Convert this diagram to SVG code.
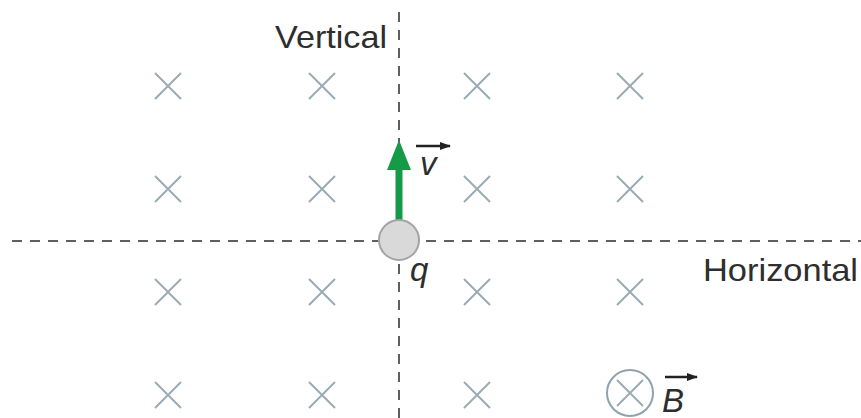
<svg xmlns="http://www.w3.org/2000/svg" width="861" height="418" viewBox="0 0 861 418">
<defs>
<style>
.x{stroke:#9aabb3;stroke-width:2;fill:none}
.axis{stroke:#5f5f5f;stroke-width:2;stroke-dasharray:10 8;fill:none}
.lbl{font-family:"Liberation Sans",Arial,sans-serif;font-size:32px;fill:#2e2e2e}
.sym{font-family:"Liberation Sans",Arial,sans-serif;font-size:33px;font-style:italic;fill:#2e2e2e}
.vec{stroke:#222;stroke-width:2.5;fill:none}
</style>
<path id="cross" d="M-13,-13L13,13M13,-13L-13,13"/>
<marker id="vh" markerWidth="11" markerHeight="8" refX="10" refY="4" orient="auto" markerUnits="userSpaceOnUse"><path d="M0,0L11,4L0,8Z" fill="#222"/></marker>
</defs>
<rect width="861" height="418" fill="#fff"/>
<g id="field">
<use href="#cross" class="x" x="168" y="86"/>
<use href="#cross" class="x" x="322" y="86"/>
<use href="#cross" class="x" x="477" y="86"/>
<use href="#cross" class="x" x="630" y="86"/>
<use href="#cross" class="x" x="168" y="189"/>
<use href="#cross" class="x" x="322" y="189"/>
<use href="#cross" class="x" x="477" y="189"/>
<use href="#cross" class="x" x="630" y="189"/>
<use href="#cross" class="x" x="168" y="292"/>
<use href="#cross" class="x" x="322" y="292"/>
<use href="#cross" class="x" x="477" y="292"/>
<use href="#cross" class="x" x="630" y="292"/>
<use href="#cross" class="x" x="168" y="395"/>
<use href="#cross" class="x" x="322" y="395"/>
<use href="#cross" class="x" x="477" y="395"/>
</g>
<g id="connectors">
<line class="axis" x1="12" y1="241" x2="861" y2="241"/>
<line class="axis" x1="399" y1="12" x2="399" y2="418"/>
</g>
<g id="labels">
<text class="lbl" x="275" y="48" textLength="112" lengthAdjust="spacingAndGlyphs">Vertical</text>
<text class="lbl" x="703" y="281" textLength="155" lengthAdjust="spacingAndGlyphs">Horizontal</text>
</g>
<g id="velocity">
<rect x="395.5" y="166" width="7" height="56" fill="#159a48"/>
<path d="M399,140L411,170L387,170Z" fill="#159a48"/>
<text class="sym" x="420" y="175">v</text>
<line class="vec" x1="416" y1="146" x2="450" y2="146" marker-end="url(#vh)"/>
</g>
<g id="charge">
<circle cx="399" cy="240" r="20" fill="#d9d9d9" stroke="#a3a3a3" stroke-width="2"/>
<text class="sym" x="410" y="281">q</text>
</g>
<g id="bfield">
<circle cx="630" cy="393" r="23" fill="#fff" stroke="#8fa3ab" stroke-width="2"/>
<use href="#cross" class="x" x="630" y="393"/>
<text class="sym" x="662" y="412">B</text>
<line class="vec" x1="665" y1="377" x2="697" y2="377" marker-end="url(#vh)"/>
</g>
</svg>
